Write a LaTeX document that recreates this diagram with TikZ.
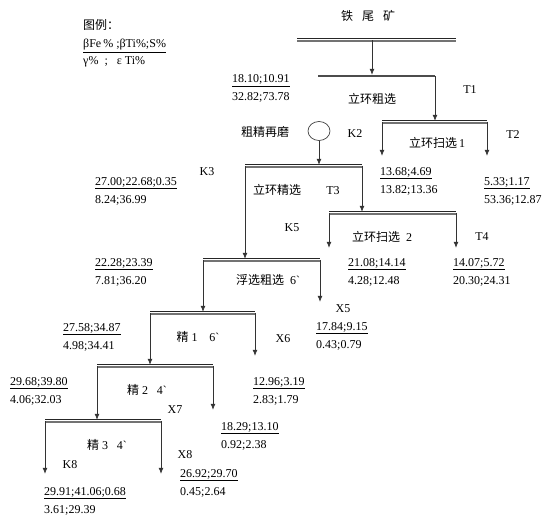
\documentclass[tikz,border=0pt]{standalone}
\usepackage{fontspec}
\setmainfont{Liberation Serif}
\newfontfamily\cjk{Noto Sans CJK SC}
\usetikzlibrary{arrows.meta,shapes.geometric}
\begin{document}
\begin{tikzpicture}[x=1pt,y=-1pt,inner sep=0pt,font=\fontsize{12}{18}\selectfont]
\tikzstyle{dbar}=[preaction={draw=black!85, line width=0.9pt, transform canvas={yshift=1.3pt}}, postaction={draw=black!55, line width=1.7pt, transform canvas={yshift=-1.2pt}}]
\tikzstyle{rbar}=[draw=black!70, line width=2.6pt]
\tikzstyle{connect}=[-{Latex[length=6pt,width=5pt]}, draw=black!80, line width=0.7pt, shorten >=1.2pt]
\tikzstyle{data}=[anchor=west, align=left]
\tikzstyle{proc}=[font=\fontsize{12}{18}\selectfont\cjk]
\useasboundingbox (0,0) rectangle (554,525);
\coordinate (fl) at (297,40); \coordinate (fr) at (456,40); \coordinate (feed) at (372,40);
\coordinate (r1l) at (318,76); \coordinate (r1r) at (435,76);
\coordinate (s1l) at (382,122); \coordinate (s1r) at (487,122);
\coordinate (c1l) at (245,166); \coordinate (c1r) at (362,166);
\coordinate (s2l) at (329,213); \coordinate (s2r) at (456,213);
\coordinate (f1l) at (203,260); \coordinate (f1r) at (320,260);
\coordinate (j1l) at (150,313); \coordinate (j1r) at (255,313);
\coordinate (j2l) at (97,366); \coordinate (j2r) at (213,366);
\coordinate (j3l) at (45,421); \coordinate (j3r) at (161,421);
\coordinate (s1c) at (382,157); \coordinate (s1x) at (487,157);
\coordinate (s2c) at (329,249); \coordinate (s2x) at (456,249);
\coordinate (x5) at (320,303); \coordinate (x6) at (255,357);
\coordinate (x7) at (213,411); \coordinate (k8) at (45,475); \coordinate (x8) at (161,475);
\path[dbar] (fl) -- (fr);
\draw[rbar] (r1l) -- (r1r);
\path[dbar] (s1l) -- (s1r);
\path[dbar] (c1l) -- (c1r);
\path[dbar] (s2l) -- (s2r);
\path[dbar] (f1l) -- (f1r);
\path[dbar] (j1l) -- (j1r);
\path[dbar] (j2l) -- (j2r);
\path[dbar] (j3l) -- (j3r);
\node[ellipse, draw=black!75, line width=0.7pt, minimum width=22pt, minimum height=19pt] (mill) at (319,131) {};
\path (feed) edge[connect] (feed |- r1l);
\path (r1r) edge[connect] (r1r |- s1l);
\path (mill) edge[connect] (mill |- c1l);
\path (s1l) edge[connect] (s1c) (s1r) edge[connect] (s1x);
\path (c1r) edge[connect] (c1r |- s2l) (c1l) edge[connect] (c1l |- f1l);
\path (s2l) edge[connect] (s2c) (s2r) edge[connect] (s2x);
\path (f1r) edge[connect] (x5) (f1l) edge[connect] (f1l |- j1l);
\path (j1r) edge[connect] (x6) (j1l) edge[connect] (j1l |- j2l);
\path (j2r) edge[connect] (x7) (j2l) edge[connect] (j2l |- j3l);
\path (j3l) edge[connect] (k8) (j3r) edge[connect] (x8);
\node[proc] (tail) at (368,16) {铁\hspace{9pt}尾\hspace{9pt}矿};
\node[proc] (cuxuan) at (372,99) {立环粗选};
\node[proc] (zaimo) at (265,132) {粗精再磨};
\node (saoxuan1) at (437,143) {{\cjk 立环扫选}\,1};
\node[proc] (jingxuan) at (277,190) {立环精选};
\node (saoxuan2) at (382,237) {{\cjk 立环扫选}\ \ 2};
\node (fuxuan) at (268,280) {{\cjk 浮选粗选}\ \ 6\textasciigrave};
\node (jing1) at (198,337) {{\cjk 精}\ 1\ \ \ \ 6\textasciigrave};
\node (jing2) at (147,390) {{\cjk 精}\ 2\ \ \ 4\textasciigrave};
\node (jing3) at (107,445) {{\cjk 精}\ 3\ \ \ 4\textasciigrave};
\node (T1) at (470,90) {T1};
\node (T2) at (513,135) {T2};
\node (K2) at (355,134) {K2};
\node (K3) at (207,172) {K3};
\node (T3) at (333,191) {T3};
\node (K5) at (292,228) {K5};
\node (T4) at (482,237) {T4};
\node (X5) at (343,309) {X5};
\node (X6) at (283,339) {X6};
\node (X7) at (175,410) {X7};
\node (X8) at (185,455) {X8};
\node (K8) at (70,465) {K8};
\node[data] (d0) at (232,88.5) {\underline{18.10;10.91}\\32.82;73.78};
\node[data] (d1) at (380,181) {\underline{13.68;4.69}\\13.82;13.36};
\node[data] (d2) at (484,191) {\underline{5.33;1.17}\\53.36;12.87};
\node[data] (d3) at (95,191) {\underline{27.00;22.68;0.35}\\8.24;36.99};
\node[data] (d4) at (348,272) {\underline{21.08;14.14}\\4.28;12.48};
\node[data] (d5) at (453,272) {\underline{14.07;5.72}\\20.30;24.31};
\node[data] (d6) at (95,272) {\underline{22.28;23.39}\\7.81;36.20};
\node[data] (d7) at (316,336) {\underline{17.84;9.15}\\0.43;0.79};
\node[data] (d8) at (63,337) {\underline{27.58;34.87}\\4.98;34.41};
\node[data] (d9) at (253,391) {\underline{12.96;3.19}\\2.83;1.79};
\node[data] (d10) at (10,391) {\underline{29.68;39.80}\\4.06;32.03};
\node[data] (d11) at (221,436) {\underline{18.29;13.10}\\0.92;2.38};
\node[data] (d12) at (180,483) {\underline{26.92;29.70}\\0.45;2.64};
\node[data] (d13) at (44,501) {\underline{29.91;41.06;0.68}\\3.61;29.39};
\node[data, font=\fontsize{12}{18}\selectfont\cjk] (legend) at (83,25) {图例：};
\node[data, font=\fontsize{12}{17}\selectfont] (key) at (83,53.5) {\underline{βFe\,\% ;βTi\%;S\%}\\γ\%\ \ ;\ \ \ ε Ti\%};
\end{tikzpicture}
\end{document}
